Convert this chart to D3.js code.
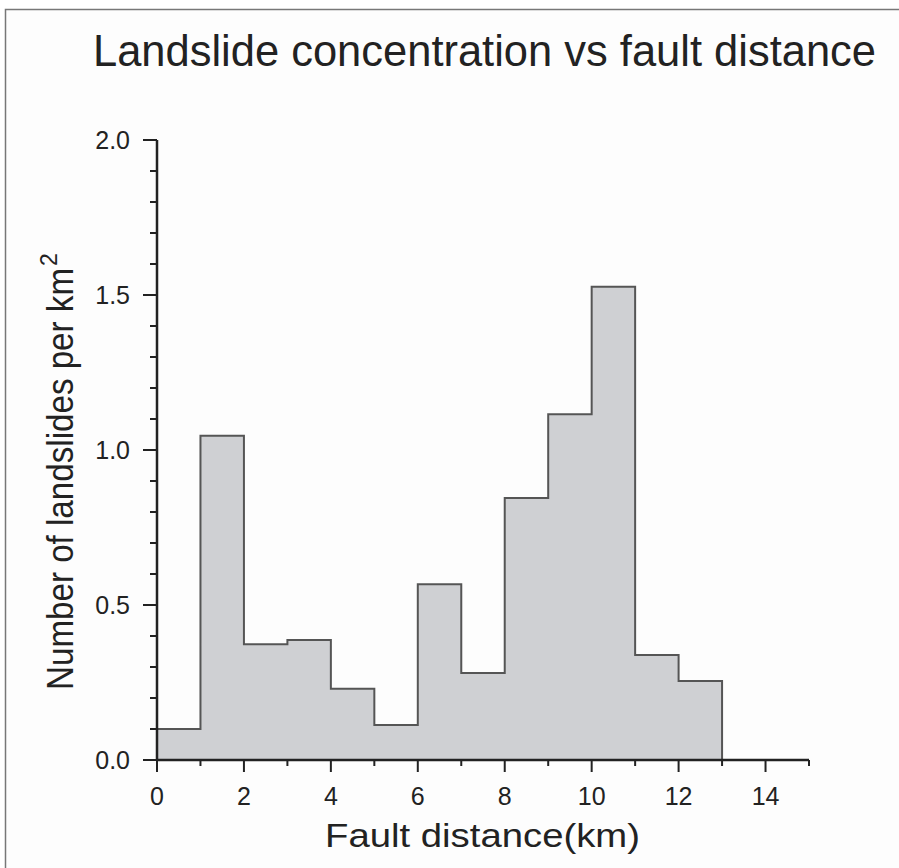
<!DOCTYPE html>
<html><head><meta charset="utf-8">
<script src="https://cdn.jsdelivr.net/npm/d3@7"></script>
<style>body{margin:0;background:#fff;} text{font-family:"Liberation Sans",Arial,sans-serif;fill:#222;}</style>
</head><body>
<svg id="c" width="899" height="868"></svg>
<script>
const binStarts = [0,1,2,3,4,5,6,7,8,9,10,11,12];
const binWidth = 1;
const concentration = [0.10,1.046,0.373,0.387,0.23,0.113,0.567,0.281,0.845,1.115,1.527,0.339,0.255];
const xTickLabels = [0,2,4,6,8,10,12,14];
const yTickLabels = [0.0,0.5,1.0,1.5,2.0];
const titleText = "Landslide concentration vs fault distance";
const xLabel = "Fault distance(km)";
const yLabel = "Number of landslides per km";

const svg = d3.select("#c");
svg.append("rect").attr("x",5.5).attr("y",9.5).attr("width",900).attr("height",870)
  .attr("fill","#fdfdfd").attr("stroke","#777").attr("stroke-width",1.5);

const x = d3.scaleLinear().domain([0,15]).range([157,809]);
const y = d3.scaleLinear().domain([0,2]).range([760,140]);

const lastEnd = binStarts[binStarts.length-1]+binWidth;
const pts = [[0,0]].concat(binStarts.map((b,i)=>[b,concentration[i]]))
  .concat([[lastEnd,concentration[concentration.length-1]],[lastEnd,0]]);

const area = d3.area().x(d=>x(d[0])).y0(y(0)).y1(d=>y(d[1])).curve(d3.curveStepAfter);
const line = d3.line().x(d=>x(d[0])).y(d=>y(d[1])).curve(d3.curveStepAfter);
svg.append("path").attr("d",area(pts)).attr("fill","#cfd0d3");
svg.append("path").attr("d",line(pts)).attr("fill","none").attr("stroke","#555").attr("stroke-width",2);

// x axis
const gx = svg.append("g");
gx.append("line").attr("x1",x(0)-1).attr("x2",x(15)).attr("y1",y(0)).attr("y2",y(0)).attr("stroke","#222").attr("stroke-width",2.5);
d3.range(0,16).forEach(v=>{
  gx.append("line").attr("x1",x(v)).attr("x2",x(v)).attr("y1",y(0)).attr("y2",y(0)+(v%2===0?12:6)).attr("stroke","#222").attr("stroke-width",2);
});
xTickLabels.forEach(v=>{
  gx.append("text").attr("x",x(v)).attr("y",805).attr("text-anchor","middle").attr("font-size",25).text(v);
});
// y axis
const gy = svg.append("g");
gy.append("line").attr("x1",x(0)).attr("x2",x(0)).attr("y1",y(2)).attr("y2",y(0)+1).attr("stroke","#222").attr("stroke-width",2.5);
d3.range(0,21).forEach(i=>{
  const v=i/10;
  gy.append("line").attr("x1",x(0)).attr("x2",x(0)-(i%5===0?14:7)).attr("y1",y(v)).attr("y2",y(v)).attr("stroke","#222").attr("stroke-width",2);
});
yTickLabels.forEach(v=>{
  gy.append("text").attr("x",130).attr("y",y(v)+9).attr("text-anchor","end").attr("font-size",25).text(d3.format(".1f")(v));
});

svg.append("text").attr("x",93).attr("y",66).attr("font-size",44)
  .attr("textLength",783).attr("lengthAdjust","spacingAndGlyphs").text(titleText);
svg.append("text").attr("x",325).attr("y",847).attr("font-size",33)
  .attr("textLength",315).attr("lengthAdjust","spacingAndGlyphs").text(xLabel);
const yl = svg.append("g").attr("transform","translate(73,690) rotate(-90)");
yl.append("text").attr("x",0).attr("y",0).attr("font-size",37)
  .attr("textLength",422).attr("lengthAdjust","spacingAndGlyphs").text(yLabel);
yl.append("text").attr("x",424).attr("y",-16).attr("font-size",23).text("2");
</script>
</body></html>
